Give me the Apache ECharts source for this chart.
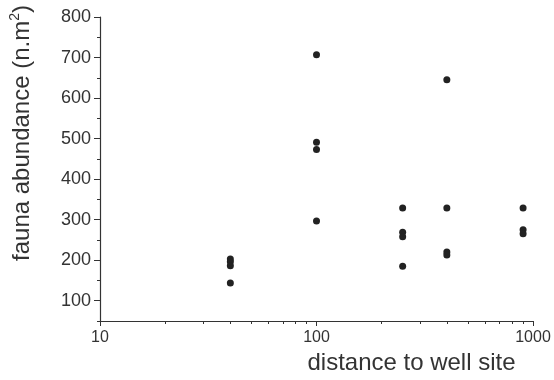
<!DOCTYPE html>
<html>
<head>
<meta charset="utf-8">
<script src="https://cdn.jsdelivr.net/npm/echarts@6/dist/echarts.min.js"></script>
<style>html,body{margin:0;padding:0;background:#fff}#c{width:554px;height:380px}</style>
</head>
<body>
<div id="c"></div>
<script>
// distance to well site (x) and fauna abundance (y)
var distances = [40, 40, 40, 40, 100, 100, 100, 100, 250, 250, 250, 250, 400, 400, 400, 400, 900, 900, 900];
var abundance = [203, 196, 186, 144, 707, 491, 473, 297, 329, 269, 258, 185, 645, 329, 220, 213, 329, 275, 265];
var xMinorTicks = [10, 20, 30, 40, 50, 60, 70, 80, 90, 100, 200, 300, 400, 500, 600, 700, 800, 900, 1000];
var xMajorTicks = [10, 100, 1000];
var yMajorTicks = [100, 200, 300, 400, 500, 600, 700, 800];

var points = distances.map(function (d, i) { return [d, abundance[i]]; });
var font = '"Liberation Sans", Arial, sans-serif';
var axisColor = '#333';

var chart = echarts.init(document.getElementById('c'));
chart.setOption({
  animation: false,
  textStyle: { fontFamily: font },
  grid: { left: 98, right: 21, top: 17, bottom: 58 },
  xAxis: [{
    type: 'log', logBase: 10, min: 10, max: 1000, position: 'bottom',
    name: 'distance to well site', nameLocation: 'middle', nameGap: 30,
    nameTextStyle: { fontSize: 24, color: '#333', fontFamily: font, padding: [0, 0, 0, 190] },
    axisLine: { show: true, lineStyle: { color: axisColor, width: 1.2 } },
    axisTick: { show: true, inside: false, length: 3, customValues: xMinorTicks, lineStyle: { color: axisColor } },
    axisLabel: { show: true, customValues: xMajorTicks, fontSize: 16, color: '#333', margin: 9, fontFamily: font,
      formatter: function (v) { return String(Math.round(v)); } },
    splitLine: { show: false }
  }, {
    type: 'log', logBase: 10, min: 10, max: 1000, position: 'bottom',
    axisLine: { show: false },
    axisTick: { show: true, length: 5, customValues: xMajorTicks, lineStyle: { color: axisColor } },
    axisLabel: { show: false },
    splitLine: { show: false }
  }],
  yAxis: [{
    type: 'value', min: 50, max: 800, interval: 50, position: 'left',
    name: '{a|fauna abundance (n.m}{s|2}{a|)}', nameLocation: 'middle', nameGap: 64,
    nameTextStyle: {
      color: '#333', fontFamily: font, padding: [0, 0, 0, 72],
      rich: {
        a: { fontSize: 24, color: '#333', fontFamily: font, lineHeight: 28 },
        s: { fontSize: 14, color: '#333', fontFamily: font, verticalAlign: 'top', lineHeight: 28, padding: [0, 0, 8, 0] }
      }
    },
    axisLine: { show: true, lineStyle: { color: axisColor, width: 1.2 } },
    axisTick: { show: true, length: 3, lineStyle: { color: axisColor } },
    axisLabel: { show: true, customValues: yMajorTicks, fontSize: 18, color: '#333', margin: 9, fontFamily: font },
    splitLine: { show: false }
  }, {
    type: 'value', min: 50, max: 800, position: 'left',
    axisLine: { show: false },
    axisTick: { show: true, length: 6, customValues: yMajorTicks, lineStyle: { color: axisColor } },
    axisLabel: { show: false },
    splitLine: { show: false }
  }],
  series: [{
    type: 'scatter', xAxisIndex: 0, yAxisIndex: 0,
    data: points, symbol: 'circle', symbolSize: 7,
    itemStyle: { color: '#222', opacity: 1 }
  }]
});
</script>
</body>
</html>
